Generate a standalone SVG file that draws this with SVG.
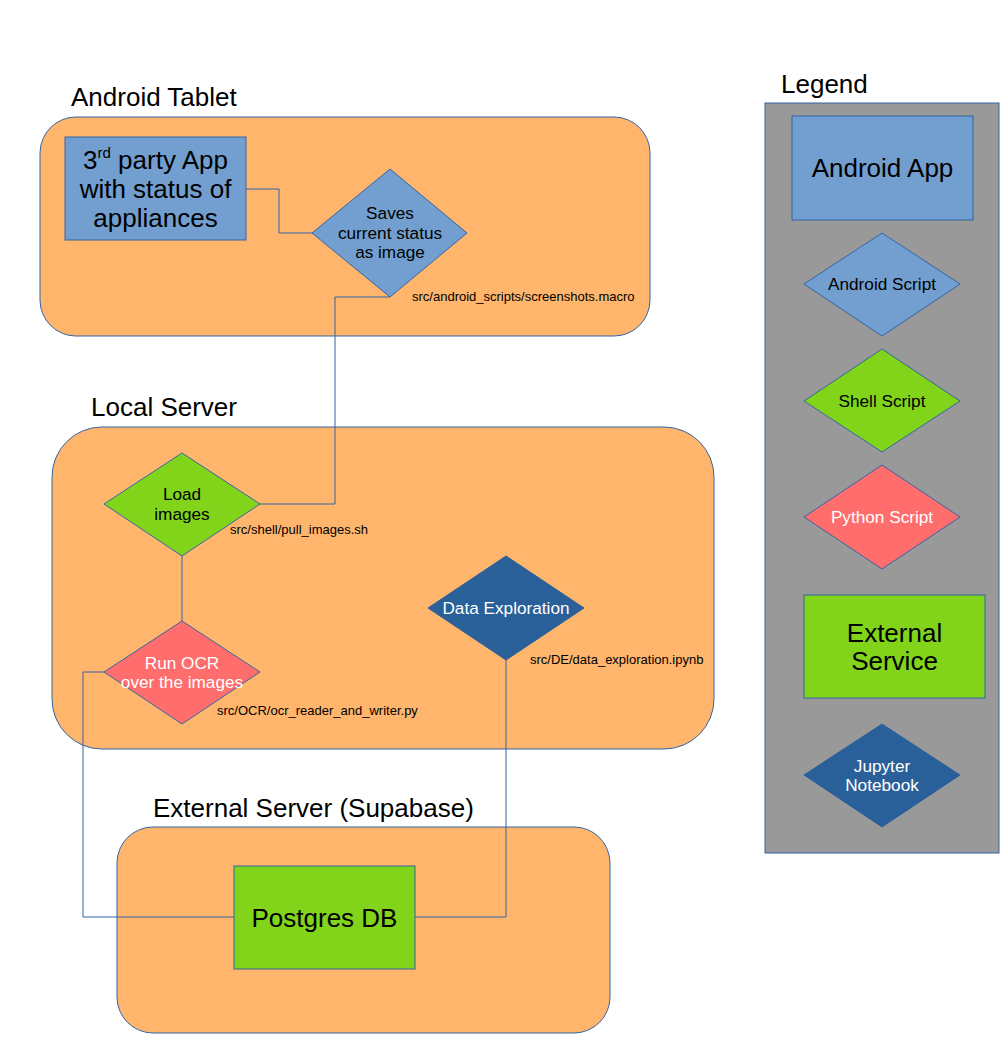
<svg xmlns="http://www.w3.org/2000/svg" width="1008" height="1056" viewBox="0 0 1008 1056">
<style>
text{font-family:"Liberation Sans",Arial,sans-serif;}
.cont{fill:#ffb66c;stroke:#3465a4;stroke-width:1;}
.title{font-size:26px;fill:#000;}
.app{fill:#729fcf;stroke:#3465a4;stroke-width:1;}
.ext{fill:#81d41a;stroke:#3465a4;stroke-width:1;}
.and{fill:#729fcf;stroke:#3465a4;stroke-width:1;}
.sh{fill:#81d41a;stroke:#3465a4;stroke-width:1;}
.py{fill:#ff6d6d;stroke:#3465a4;stroke-width:1;}
.jn{fill:#2a6099;stroke:#2a6099;stroke-width:1;}
.big{font-size:26px;fill:#000;text-anchor:middle;}
.mid{font-size:17.2px;fill:#000;text-anchor:middle;}
.midw{font-size:17.2px;fill:#fff;text-anchor:middle;}
.lbl{font-size:13px;fill:#000;}
.conn{fill:none;stroke:#3465a4;stroke-width:1;}
</style>
<rect width="1008" height="1056" fill="#fff"/>
<g id="android-tablet">
<rect class="cont" x="40" y="117" width="610" height="219" rx="36"/>
<text class="title" x="71" y="106">Android Tablet</text>
</g>
<g id="local-server">
<rect class="cont" x="52" y="427" width="662" height="322" rx="50"/>
<text class="title" x="91" y="416">Local Server</text>
</g>
<g id="external-server">
<rect class="cont" x="117" y="827" width="493" height="206" rx="36"/>
<text class="title" x="153" y="817">External Server (Supabase)</text>
</g>
<g id="connectors">
<polyline class="conn" points="246,189 279,189 279,233 312,233"/>
<polyline class="conn" points="390,297 335,297 335,504 260,504"/>
<line class="conn" x1="182" y1="556" x2="182" y2="621"/>
<polyline class="conn" points="104,672 83,672 83,917 234,917"/>
<polyline class="conn" points="506,660 506,917 415,917"/>
</g>
<g id="third-party-app">
<rect class="app" x="65" y="137" width="181" height="103"/>
<text class="big" x="155.5" y="169">3<tspan font-size="15" dy="-11">rd</tspan><tspan dy="11"> party App</tspan></text>
<text class="big" x="155.5" y="198">with status of</text>
<text class="big" x="155.5" y="227">appliances</text>
</g>
<g id="saves-status">
<polygon class="and" points="390,169 467,233 390,297 312,233"/>
<text class="mid" x="390" y="219">Saves</text>
<text class="mid" x="390" y="239">current status</text>
<text class="mid" x="390" y="258">as image</text>
<text class="lbl" x="412" y="301">src/android_scripts/screenshots.macro</text>
</g>
<g id="load-images">
<polygon class="sh" points="182,453 260,504 182,556 104,504"/>
<text class="mid" x="182" y="500">Load</text>
<text class="mid" x="182" y="520">images</text>
<text class="lbl" x="230" y="534">src/shell/pull_images.sh</text>
</g>
<g id="run-ocr">
<polygon class="py" points="182,621 260,672 182,724 104,672"/>
<text class="midw" x="182" y="669">Run OCR</text>
<text class="midw" x="182" y="688">over the images</text>
<text class="lbl" x="217" y="715">src/OCR/ocr_reader_and_writer.py</text>
</g>
<g id="data-exploration">
<polygon class="jn" points="506,556 584,608 506,660 428,608"/>
<text class="midw" x="506" y="614">Data Exploration</text>
<text class="lbl" x="530" y="664">src/DE/data_exploration.ipynb</text>
</g>
<g id="postgres-db">
<rect class="ext" x="234" y="866" width="181" height="103"/>
<text class="big" x="324.5" y="927">Postgres DB</text>
</g>
<g id="legend">
<text class="title" x="781" y="93">Legend</text>
<rect x="765" y="103" width="234" height="750" fill="#999999" stroke="#3465a4" stroke-width="1"/>
</g>
<g id="legend-android-app">
<rect class="app" x="792" y="116" width="181" height="104"/>
<text class="big" x="882.5" y="177">Android App</text>
</g>
<g id="legend-android-script">
<polygon class="and" points="882,233 960,284 882,336 804,284"/>
<text class="mid" x="882" y="290">Android Script</text>
</g>
<g id="legend-shell-script">
<polygon class="sh" points="882,349 960,401 882,452 804,401"/>
<text class="mid" x="882" y="407">Shell Script</text>
</g>
<g id="legend-python-script">
<polygon class="py" points="882,465 960,517 882,569 804,517"/>
<text class="midw" x="882" y="523">Python Script</text>
</g>
<g id="legend-external-service">
<rect class="ext" x="804" y="595" width="181" height="103"/>
<text class="big" x="894.5" y="642">External</text>
<text class="big" x="894.5" y="670">Service</text>
</g>
<g id="legend-jupyter">
<polygon class="jn" points="882,724 960,775 882,827 804,775"/>
<text class="midw" x="882" y="772">Jupyter</text>
<text class="midw" x="882" y="791">Notebook</text>
</g>
</svg>
